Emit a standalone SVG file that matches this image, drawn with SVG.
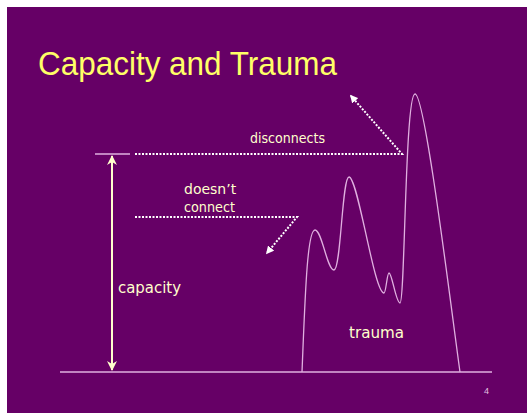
<svg xmlns="http://www.w3.org/2000/svg" width="527" height="413" viewBox="0 0 527 413">
<defs>
<style>
.lbl{font-family:"DejaVu Sans","Liberation Sans",sans-serif;fill:#ffffcc;}
.dot{fill:none;stroke:#ffffff;stroke-width:2;stroke-dasharray:2 1.5;}
.pink{fill:none;stroke:#e0b0e0;stroke-width:1.3;}
</style>
<marker id="dh" viewBox="0 0 10 10" refX="8" refY="5" markerWidth="4" markerHeight="4" orient="auto-start-reverse">
<path d="M0,0 L10,5 L0,10 z" fill="#ffffff"/>
</marker>
<marker id="ch" viewBox="0 0 10 10" refX="9" refY="5" markerWidth="5" markerHeight="5" orient="auto-start-reverse">
<path d="M0,0 L10,5 L0,10 L3,5 z" fill="#ffffcc"/>
</marker>
</defs>
<rect x="0" y="0" width="527" height="413" fill="#ffffff"/>
<rect x="7" y="7" width="520" height="406" fill="#660066"/>
<text x="38" y="75" font-family="'Liberation Sans',sans-serif" font-size="33" fill="#ffff66" textLength="299" lengthAdjust="spacingAndGlyphs">Capacity and Trauma</text>
<g id="baseline"><line class="pink" x1="60" y1="372" x2="492" y2="372"/></g>
<g id="capacity-top"><line class="pink" x1="95" y1="154" x2="130" y2="154"/></g>
<g id="trauma-curve">
<path class="pink" d="M302,372 C305,300 307,230 315,230 C322,230 327,270 334,270 C341,270 342,177 349,177 C358,177 374,293 384,293 C386,293 387,273 389,273 C392,273 396,303 400,303 C405,303 405,94 415,94 C425,94 450,300 460,372"/>
<text class="lbl" x="349" y="338" font-size="15" textLength="55" lengthAdjust="spacingAndGlyphs">trauma</text>
</g>
<g id="capacity">
<text class="lbl" x="118" y="293" font-size="16" textLength="63" lengthAdjust="spacingAndGlyphs">capacity</text>
</g>
<g id="disconnects">
<text class="lbl" x="250" y="143" font-size="14" textLength="75" lengthAdjust="spacingAndGlyphs">disconnects</text>
</g>
<g id="doesnt-connect">
<text class="lbl" x="184" y="194" font-size="14">doesn’t</text>
<text class="lbl" x="184" y="212" font-size="14" textLength="51" lengthAdjust="spacingAndGlyphs">connect</text>
</g>
<g id="connectors">
<line x1="112" y1="156" x2="112" y2="370" stroke="#ffffcc" stroke-width="2" marker-start="url(#ch)" marker-end="url(#ch)"/>
<polyline class="dot" points="135,154 402,154 351,96" marker-end="url(#dh)"/>
<polyline class="dot" points="135,217 297,217 267,253" marker-end="url(#dh)"/>
</g>
<text x="484" y="394" font-family="'Liberation Sans',sans-serif" font-size="9" fill="#e0c0e0">4</text>
</svg>
